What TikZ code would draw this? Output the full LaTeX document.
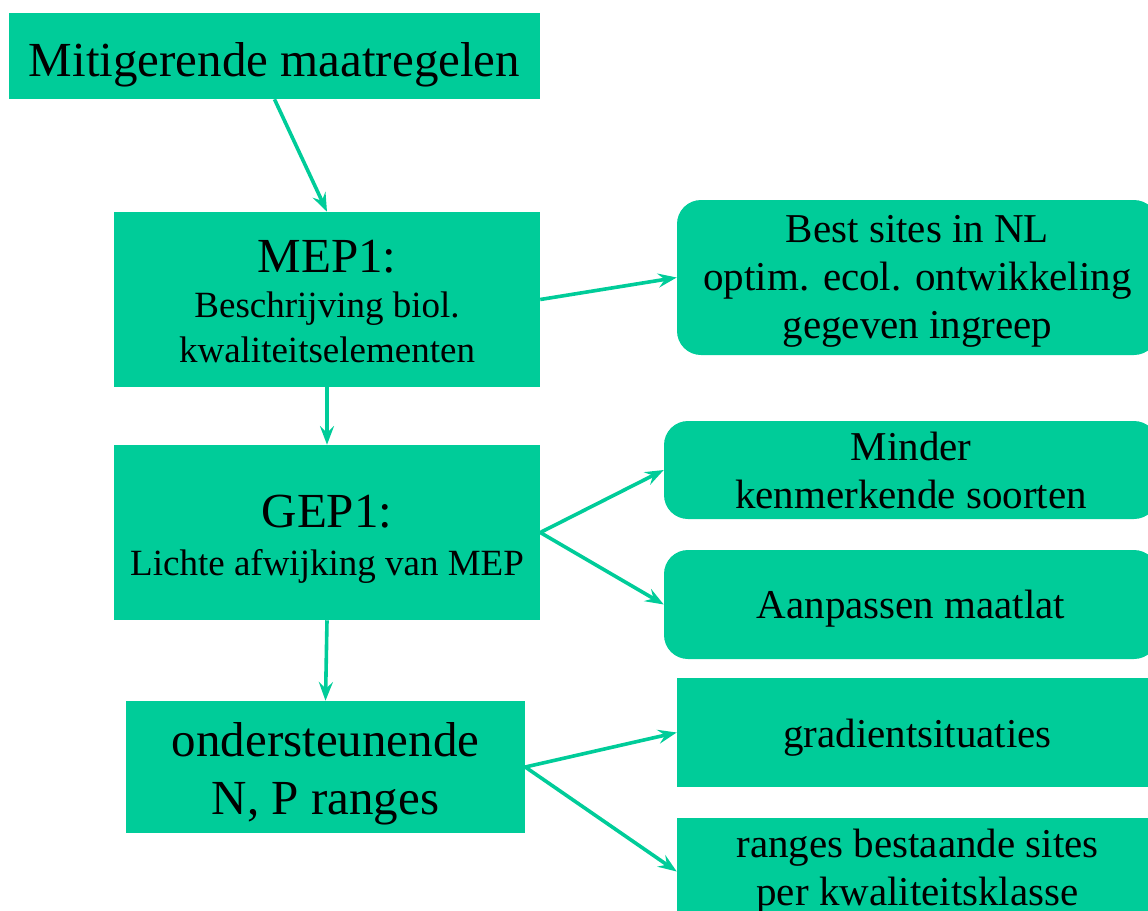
\documentclass[tikz,border=0pt]{standalone}
\usepackage{fontspec}
\setmainfont{Liberation Serif}
\usetikzlibrary{fit,arrows.meta}
\definecolor{mint}{RGB}{0,204,153}
\newcommand{\bigf}{\fontsize{36.75}{44}\selectfont}
\newcommand{\smallf}{\fontsize{27.75}{34}\selectfont}
\newcommand{\midf}{\fontsize{30.75}{36}\selectfont}
\begin{document}
\begin{tikzpicture}[x=0.75pt,y=-0.75pt,
  sqbox/.style={fill=mint, draw=none, inner sep=0pt},
  rbox/.style={sqbox, rounded corners=18pt},
  txt/.style={inner sep=0pt, align=center, text=black},
  link/.style={draw=mint, line width=2.7pt, -{Stealth[length=14pt,width=10.5pt,inset=5pt]}}]
\useasboundingbox (0,0) rectangle (1148,910);
\clip (0,0) rectangle (1148,910);
% left column boxes
\node[sqbox, fit={(9,13) (540,99)}] (A) {};
\node[sqbox, fit={(114,212) (540,387)}] (mep) {};
\node[sqbox, fit={(114,445) (540,620)}] (gep) {};
\node[sqbox, fit={(126,701) (525,833)}] (ond) {};
% right column boxes
\node[rbox, fit={(677,200) (1158,355)}] (best) {};
\node[rbox, fit={(664,421) (1158,519)}] (minder) {};
\node[rbox, fit={(664,550) (1158,659)}] (aanp) {};
\node[sqbox, fit={(677,678) (1158,787)}] (grad) {};
\node[sqbox, fit={(677,818) (1158,925)}] (ranges) {};
% texts
\node[txt, font=\bigf] (At) at ([yshift=-6.4pt]A.center) {Mitigerende maatregelen};
\node[txt, font=\smallf] (mept) at ([yshift=-1.5pt]mep.center) {{\bigf MEP1:}\\ Beschrijving biol.\\ kwaliteitselementen};
\node[txt, font=\smallf] (gept) at ([yshift=-4.9pt]gep.center) {{\bigf GEP1:}\\[2pt] Lichte afwijking van MEP};
\node[txt, font=\bigf] (ondt) at ([yshift=-5.2pt]ond.center) {ondersteunende\\ N, P ranges};
\node[txt, font=\midf] (bestt) at ([yshift=-3pt]best.center) {Best sites in NL\\ optim. ecol. ontwikkeling\\ gegeven ingreep};
\node[txt, font=\midf] (mindert) at (minder.center) {Minder\\ kenmerkende soorten};
\node[txt, font=\midf] (aanpt) at ([yshift=-3pt]aanp.center) {Aanpassen maatlat};
\node[txt, font=\midf] (gradt) at ([yshift=-3.7pt]grad.center) {gradientsituaties};
\node[txt, font=\midf] (rangest) at (ranges.center) {ranges bestaande sites\\ per kwaliteitsklasse};
% connectors
\draw[link] (A.south) -- (mep.north);
\draw[link] (mep.south) -- (gep.north);
\draw[link] (gep.south) -- (ond.north);
\draw[link] (mep.east) -- (best.west);
\draw[link] (gep.east) -- (minder.west);
\draw[link] (gep.east) -- (aanp.west);
\draw[link] (ond.east) -- (grad.west);
\draw[link] (ond.east) -- (ranges.west);
\end{tikzpicture}
\end{document}
